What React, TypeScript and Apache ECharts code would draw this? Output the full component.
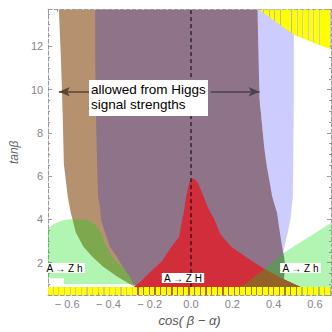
import React, { useEffect, useRef } from "react";
import * as echarts from "echarts";

// axis ranges
const X_RANGE = [-0.692, 0.678];
const Y_RANGE = [0.5, 13.7];

// region boundaries [cos(beta-alpha), tanBeta]
const lavenderRegion = [
  [0.294, 13.7], [0.498, 13.7], [0.498, 9.58], [0.493, 5.02], [0.483, 4.1],
  [0.469, 3.42], [0.455, 2.83], [0.447, 2.5], [0.4, 2.5],
];
const brownRegion = [
  [-0.64, 13.7], [-0.63, 11.4], [-0.621, 8.66], [-0.616, 6.57], [-0.597, 5.06],
  [-0.583, 4.33], [-0.573, 3.97], [-0.559, 3.42], [-0.521, 2.74], [-0.479, 2.28],
  [-0.427, 1.82], [-0.36, 1.37], [-0.303, 1.05], [-0.275, 0.91], [-0.35, 13.7],
];
const purpleRegion = [
  [-0.464, 13.7], [-0.464, 11.4], [-0.46, 8.66], [-0.455, 6.57], [-0.45, 5.06],
  [-0.441, 4.56], [-0.436, 3.97], [-0.417, 3.42], [-0.393, 2.74], [-0.36, 2.28],
  [-0.332, 1.82], [-0.299, 1.37], [-0.275, 0.96], [0.531, 0.87], [0.45, 1.23],
  [0.456, 1.8], [0.452, 2.2], [0.447, 2.46], [0.441, 2.74], [0.427, 3.6], [0.417, 4.29],
  [0.393, 5.06], [0.365, 6.57], [0.355, 7.3], [0.332, 9.58], [0.327, 11.4], [0.322, 13.7],
];
const redRegion = [
  [-0.275, 0.91], [-0.242, 1.14], [-0.194, 1.6], [-0.142, 2.05], [-0.095, 2.74],
  [-0.057, 3.19], [-0.047, 3.78], [-0.033, 4.42], [-0.024, 5.02], [-0.014, 5.47],
  [-0.005, 5.8], [0.009, 5.9], [0.022, 5.82], [0.033, 5.7], [0.057, 5.15],
  [0.081, 4.56], [0.114, 3.97], [0.142, 3.33], [0.194, 2.74], [0.275, 2.2],
  [0.351, 1.73], [0.45, 1.23], [0.531, 0.87], [0.531, 0.5], [-0.275, 0.5],
];
const greenLeftRegion = [
  [-0.692, 3.6], [-0.654, 3.83], [-0.616, 3.97], [-0.583, 4.01], [-0.512, 4.01],
  [-0.474, 3.83], [-0.45, 3.6], [-0.431, 3.28], [-0.417, 2.92], [-0.398, 2.55],
  [-0.384, 2.28], [-0.336, 1.82], [-0.299, 1.37], [-0.275, 1.0], [-0.616, 1.0],
  [-0.616, 1.28], [-0.692, 1.28],
];
const greenRightRegion = [
  [0.232, 0.87], [0.261, 1.0], [0.355, 1.69], [0.45, 2.46], [0.526, 2.92],
  [0.678, 3.83], [0.678, 0.5], [0.232, 0.5],
];
const yellowTopRegion = [
  [0.327, 13.7], [0.678, 13.7], [0.678, 11.86], [0.578, 12.22], [0.498, 12.54], [0.412, 13.13],
];
const yellowBottomRegion = [
  [-0.692, 0.5], [0.678, 0.5], [0.678, 0.87], [-0.692, 0.87],
];
const centerLine = [[0, 0.87], [0, 13.7]];
const arrowLeft = [[-0.469, 9.9], [-0.64, 9.9]];
const arrowRight = [[0.095, 9.9], [0.332, 9.9]];

const FONT = "'Liberation Sans', Arial, sans-serif";

function stripes(n: number, a: string, b: string, frac: number) {
  const stops: any[] = [];
  for (let i = 0; i < n; i++) {
    stops.push({ offset: i / n, color: a });
    stops.push({ offset: (i + frac) / n, color: a });
    stops.push({ offset: (i + frac) / n, color: b });
    stops.push({ offset: (i + 1) / n, color: b });
  }
  return new echarts.graphic.LinearGradient(0, 0, 1, 0, stops);
}

function poly(name: string, pts: number[][], fill: any, z: number) {
  return {
    type: "custom",
    name,
    coordinateSystem: "cartesian2d",
    data: pts,
    silent: true,
    clip: true,
    z,
    renderItem: (params: any, api: any) => {
      if (params.dataIndex !== 0) return null;
      const points = pts.map((p) => api.coord(p));
      return { type: "polygon", shape: { points }, style: { fill } };
    },
  };
}

function fmtX(v: number) {
  if (Math.abs(v) < 1e-9) return "0.0";
  return v < 0 ? "\u2212 " + Math.abs(v).toFixed(1) : v.toFixed(1);
}

export default function App() {
  const ref = useRef<HTMLDivElement>(null);
  useEffect(() => {
    if (!ref.current) return;
    const chart = echarts.init(ref.current, null, { renderer: "svg" });
    const axisCommon = {
      type: "value",
      splitLine: { show: false },
      axisLine: { show: true, onZero: false, lineStyle: { color: "#9a9a9a", type: [4, 2], width: 1 } },
      axisTick: { show: true, inside: true, length: 4, lineStyle: { color: "#9a9a9a" } },
      minorTick: { show: true, splitNumber: 4, length: 2, lineStyle: { color: "#9a9a9a" } },
    };
    const option: any = {
      animation: false,
      backgroundColor: "#ffffff",
      grid: { left: 42, right: 1, top: 9.6, bottom: 33, containLabel: false },
      xAxis: [
        {
          ...axisCommon,
          position: "bottom",
          min: X_RANGE[0], max: X_RANGE[1],
          splitNumber: 7, minInterval: 0.2, maxInterval: 0.2,
          axisLabel: {
            showMinLabel: false, showMaxLabel: false, formatter: fmtX,
            color: "#85858f", fontSize: 11, fontFamily: FONT, margin: 3,
          },
          name: "cos( \u03b2 \u2212 \u03b1)",
          nameLocation: "middle",
          nameGap: 14,
          nameTextStyle: { fontStyle: "italic", color: "#555", fontSize: 13, fontFamily: FONT, verticalAlign: "top" },
        },
        {
          ...axisCommon,
          position: "top",
          min: X_RANGE[0], max: X_RANGE[1],
          splitNumber: 7, minInterval: 0.2, maxInterval: 0.2,
          axisLabel: { show: false },
        },
      ],
      yAxis: [
        {
          ...axisCommon,
          position: "left",
          min: Y_RANGE[0], max: Y_RANGE[1],
          splitNumber: 6, minInterval: 2, maxInterval: 2,
          axisLabel: {
            showMinLabel: false, showMaxLabel: false,
            color: "#85858f", fontSize: 11, fontFamily: FONT, margin: 5,
          },
          name: "tan\u03b2",
          nameLocation: "middle",
          nameGap: 22,
          nameRotate: 90,
          nameTextStyle: { fontStyle: "italic", color: "#666", fontSize: 12, fontFamily: FONT },
        },
        {
          ...axisCommon,
          position: "right",
          min: Y_RANGE[0], max: Y_RANGE[1],
          splitNumber: 6, minInterval: 2, maxInterval: 2,
          axisLabel: { show: false },
        },
      ],
      series: [
        poly("lavender", lavenderRegion, "#ccccff", 2),
        poly("brown", brownRegion, "#b5916f", 3),
        poly("purple", purpleRegion, "#8e7389", 4),
        poly("red", redRegion, "#d22d3b", 5),
        poly("greenLeft", greenLeftRegion, "rgba(0,221,0,0.3)", 6),
        poly("greenRight", greenRightRegion, "rgba(0,221,0,0.3)", 6),
        poly("yellowTop", yellowTopRegion, stripes(13, "#ffff00", "rgba(170,170,150,0.6)", 0.85), 7),
        poly("yellowBottom", yellowBottomRegion, stripes(50, "#ffff00", "rgba(170,150,0,0.5)", 0.78), 7),
        {
          type: "line",
          data: centerLine,
          symbol: "none",
          silent: true,
          z: 8,
          lineStyle: { color: "#000", width: 1, type: [4, 3] },
          markLine: {
            silent: true,
            symbol: ["none", "arrow"],
            symbolSize: [7, 11],
            label: { show: false },
            data: [
              [
                { coord: arrowLeft[0], lineStyle: { color: "#594536", width: 1.6, type: "solid" } },
                { coord: arrowLeft[1] },
              ],
              [
                { coord: arrowRight[0], lineStyle: { color: "#4a4155", width: 1.6, type: "solid" } },
                { coord: arrowRight[1] },
              ],
            ],
          },
        },
      ],
      graphic: [
        { type: "rect", z: 100, shape: { x: 89, y: 80, width: 119, height: 36 }, style: { fill: "#fff" } },
        { type: "text", z: 101, x: 91, y: 82, style: { text: "allowed from Higgs", font: `13.5px ${FONT}`, fill: "#000", verticalAlign: "top" } },
        { type: "text", z: 101, x: 91, y: 97, style: { text: "signal strengths", font: `13.5px ${FONT}`, fill: "#000", verticalAlign: "top" } },
        { type: "text", z: 101, x: 64.5, y: 268, style: { text: "A \u2192 Z h", font: `10px ${FONT}`, fill: "#000", align: "center", verticalAlign: "middle", backgroundColor: "#fff", padding: [0, 2] } },
        { type: "text", z: 101, x: 183, y: 278, style: { text: "A \u2192 Z H", font: `10px ${FONT}`, fill: "#000", align: "center", verticalAlign: "middle", backgroundColor: "#fff", padding: [0, 2] } },
        { type: "text", z: 101, x: 300.5, y: 268, style: { text: "A \u2192 Z h", font: `10px ${FONT}`, fill: "#000", align: "center", verticalAlign: "middle", backgroundColor: "#fff", padding: [0, 2] } },
      ],
    };
    chart.setOption(option);
    return () => chart.dispose();
  }, []);
  return <div ref={ref} style={{ position: "fixed", left: 0, top: 0, width: 332, height: 332 }} />;
}
